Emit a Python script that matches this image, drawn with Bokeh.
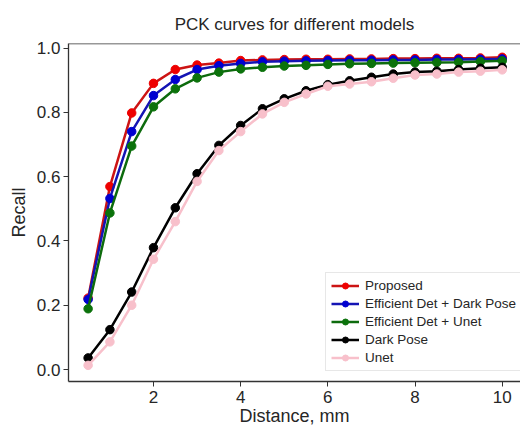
from bokeh.plotting import figure
from bokeh.models import FixedTicker, PrintfTickFormatter, Span, Range1d
from bokeh.embed import file_html
from bokeh.resources import INLINE

distance = [0.5, 1.0, 1.5, 2.0, 2.5, 3.0, 3.5, 4.0, 4.5, 5.0,
            5.5, 6.0, 6.5, 7.0, 7.5, 8.0, 8.5, 9.0, 9.5, 10.0]
proposed = [0.222, 0.569, 0.798, 0.890, 0.933, 0.947, 0.953, 0.961, 0.963, 0.964,
            0.965, 0.965, 0.966, 0.966, 0.967, 0.967, 0.968, 0.968, 0.969, 0.971]
eff_dark = [0.218, 0.532, 0.740, 0.852, 0.902, 0.933, 0.945, 0.952, 0.957, 0.959,
            0.960, 0.961, 0.962, 0.962, 0.963, 0.963, 0.964, 0.964, 0.965, 0.966]
eff_unet = [0.189, 0.487, 0.695, 0.817, 0.873, 0.907, 0.925, 0.935, 0.940, 0.944,
            0.946, 0.949, 0.951, 0.952, 0.953, 0.954, 0.955, 0.956, 0.958, 0.960]
dark_pose = [0.036, 0.124, 0.241, 0.379, 0.503, 0.609, 0.697, 0.759, 0.811, 0.842,
             0.867, 0.886, 0.898, 0.909, 0.919, 0.925, 0.928, 0.933, 0.937, 0.940]
unet = [0.013, 0.086, 0.200, 0.343, 0.460, 0.585, 0.681, 0.740, 0.795, 0.831,
        0.857, 0.881, 0.888, 0.895, 0.906, 0.916, 0.919, 0.925, 0.928, 0.932]

series = [
    ("Proposed", proposed, "#cc1414", "#ee0000"),
    ("Efficient Det + Dark Pose", eff_dark, "#1414b4", "#0000d0"),
    ("Efficient Det + Unet", eff_unet, "#0d6b0d", "#0b720b"),
    ("Dark Pose", dark_pose, "#000000", "#000000"),
    ("Unet", unet, "#f8c0cb", "#f8c0cb"),
]

FONT = "Liberation Sans"
TXT = "#262626"
AX = "#333333"
Y_END = 1.014

p = figure(width=520, height=429, output_backend="svg", toolbar_location=None,
           x_range=Range1d(0.05, 10.42), y_range=Range1d(-0.0373, Y_END),
           min_border_left=68, min_border_right=0, min_border_top=43, min_border_bottom=48,
           title="PCK curves for different models")

p.title.align = "center"
p.title.text_font = FONT
p.title.text_font_size = "17px"
p.title.text_font_style = "normal"
p.title.text_color = TXT
p.title.standoff = 20

p.outline_line_color = None
p.xgrid.visible = False
p.ygrid.visible = False

for label, ys, lc, mc in series:
    p.line(distance, ys, line_color=lc, line_width=2.5, legend_label=label)
    p.scatter(distance, ys, size=8.5, fill_color=mc, line_color=mc, legend_label=label)

top = Span(location=Y_END, dimension="width", line_color=AX, line_width=1.3)
p.add_layout(top)

for ax in (p.xaxis[0], p.yaxis[0]):
    ax.axis_line_color = AX
    ax.axis_line_width = 1.3
    ax.major_tick_line_color = AX
    ax.major_tick_line_width = 1
    ax.major_tick_out = 5
    ax.major_tick_in = 0
    ax.minor_tick_line_color = None
    ax.major_label_text_font = FONT
    ax.major_label_text_font_size = "17px"
    ax.major_label_text_color = TXT
    ax.axis_label_text_font = FONT
    ax.axis_label_text_font_size = "18px"
    ax.axis_label_text_font_style = "normal"
    ax.axis_label_text_color = TXT
    ax.major_label_standoff = 3

p.xaxis.ticker = FixedTicker(ticks=[2, 4, 6, 8, 10])
p.xaxis.formatter = PrintfTickFormatter(format="%d")
p.yaxis.ticker = FixedTicker(ticks=[0.0, 0.2, 0.4, 0.6, 0.8, 1.0])
p.yaxis.formatter = PrintfTickFormatter(format="%.1f")
p.xaxis.axis_label = "Distance, mm"
p.yaxis.axis_label = "Recall"
p.xaxis.major_label_standoff = 4
p.xaxis.axis_label_standoff = 0
p.yaxis.axis_label_standoff = 5

lg = p.legend[0]
lg.location = (257, 10)
lg.margin = 0
lg.padding = 5
lg.spacing = 3
lg.glyph_width = 28
lg.glyph_height = 15
lg.label_height = 15
lg.label_standoff = 6
lg.label_text_font = FONT
lg.label_text_font_size = "13.5px"
lg.label_text_color = TXT
lg.border_line_color = "#d0d0d0"
lg.border_line_width = 1
lg.background_fill_alpha = 0.85

open("out.html", "w").write(file_html(p, INLINE))
